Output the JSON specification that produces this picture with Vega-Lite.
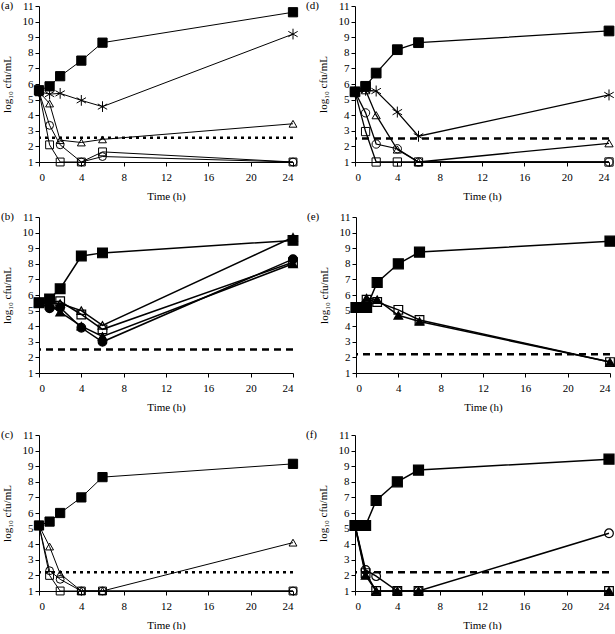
{
"$schema": "https://vega.github.io/schema/vega-lite/v6.json",
"padding": {"left": 1, "top": 0, "right": 0, "bottom": 0},
"background": "white",
"config": {
  "view": {"stroke": null},
  "axis": {"domainColor": "black", "tickColor": "black", "labelColor": "black", "titleColor": "black", "labelFont": "Liberation Serif", "titleFont": "Liberation Serif", "labelFontSize": 11, "titleFontSize": 11, "titleFontWeight": "normal", "grid": false, "tickSize": 4, "labelOverlap": false},
  "text": {"font": "Liberation Serif", "fontSize": 11, "color": "black", "align": "left", "baseline": "middle"}
},
"datasets": {
  "lod": [
    {"p": "a", "v": 2.55, "lab": "(a)"}, {"p": "b", "v": 2.5, "lab": "(b)"}, {"p": "c", "v": 2.2, "lab": "(c)"},
    {"p": "d", "v": 2.5, "lab": "(d)"}, {"p": "e", "v": 2.2, "lab": "(e)"}, {"p": "f", "v": 2.2, "lab": "(f)"}
  ],
  "pts": [
    {"p": "a", "s": "osq", "t": 0, "v": 5.5}, {"p": "a", "s": "osq", "t": 1, "v": 2.1}, {"p": "a", "s": "osq", "t": 2, "v": 1.0}, {"p": "a", "s": "osq", "t": 4, "v": 1.0}, {"p": "a", "s": "osq", "t": 6, "v": 1.65}, {"p": "a", "s": "osq", "t": 24, "v": 1.0},
    {"p": "a", "s": "ocirc", "t": 0, "v": 5.5}, {"p": "a", "s": "ocirc", "t": 1, "v": 3.35}, {"p": "a", "s": "ocirc", "t": 2, "v": 2.1}, {"p": "a", "s": "ocirc", "t": 4, "v": 1.0}, {"p": "a", "s": "ocirc", "t": 6, "v": 1.35}, {"p": "a", "s": "ocirc", "t": 24, "v": 1.0},
    {"p": "a", "s": "otri", "t": 0, "v": 5.5}, {"p": "a", "s": "otri", "t": 1, "v": 4.75}, {"p": "a", "s": "otri", "t": 2, "v": 2.4}, {"p": "a", "s": "otri", "t": 4, "v": 2.25}, {"p": "a", "s": "otri", "t": 6, "v": 2.45}, {"p": "a", "s": "otri", "t": 24, "v": 3.45},
    {"p": "a", "s": "star", "t": 0, "v": 5.5}, {"p": "a", "s": "star", "t": 1, "v": 5.35}, {"p": "a", "s": "star", "t": 2, "v": 5.4}, {"p": "a", "s": "star", "t": 4, "v": 4.95}, {"p": "a", "s": "star", "t": 6, "v": 4.55}, {"p": "a", "s": "star", "t": 24, "v": 9.2},
    {"p": "a", "s": "ctrl", "t": 0, "v": 5.6}, {"p": "a", "s": "ctrl", "t": 1, "v": 5.85}, {"p": "a", "s": "ctrl", "t": 2, "v": 6.5}, {"p": "a", "s": "ctrl", "t": 4, "v": 7.5}, {"p": "a", "s": "ctrl", "t": 6, "v": 8.65}, {"p": "a", "s": "ctrl", "t": 24, "v": 10.6},

    {"p": "d", "s": "osq", "t": 0, "v": 5.5}, {"p": "d", "s": "osq", "t": 1, "v": 2.95}, {"p": "d", "s": "osq", "t": 2, "v": 1.0}, {"p": "d", "s": "osq", "t": 4, "v": 1.0}, {"p": "d", "s": "osq", "t": 6, "v": 1.0}, {"p": "d", "s": "osq", "t": 24, "v": 1.0},
    {"p": "d", "s": "ocirc", "t": 0, "v": 5.5}, {"p": "d", "s": "ocirc", "t": 1, "v": 4.15}, {"p": "d", "s": "ocirc", "t": 2, "v": 2.15}, {"p": "d", "s": "ocirc", "t": 4, "v": 1.85}, {"p": "d", "s": "ocirc", "t": 6, "v": 1.0}, {"p": "d", "s": "ocirc", "t": 24, "v": 1.0},
    {"p": "d", "s": "otri", "t": 0, "v": 5.5}, {"p": "d", "s": "otri", "t": 1, "v": 5.6}, {"p": "d", "s": "otri", "t": 2, "v": 4.0}, {"p": "d", "s": "otri", "t": 4, "v": 1.8}, {"p": "d", "s": "otri", "t": 6, "v": 1.0}, {"p": "d", "s": "otri", "t": 24, "v": 2.2},
    {"p": "d", "s": "star", "t": 0, "v": 5.5}, {"p": "d", "s": "star", "t": 1, "v": 5.6}, {"p": "d", "s": "star", "t": 2, "v": 5.55}, {"p": "d", "s": "star", "t": 4, "v": 4.2}, {"p": "d", "s": "star", "t": 6, "v": 2.65}, {"p": "d", "s": "star", "t": 24, "v": 5.3},
    {"p": "d", "s": "ctrl", "t": 0, "v": 5.5}, {"p": "d", "s": "ctrl", "t": 1, "v": 5.85}, {"p": "d", "s": "ctrl", "t": 2, "v": 6.7}, {"p": "d", "s": "ctrl", "t": 4, "v": 8.2}, {"p": "d", "s": "ctrl", "t": 6, "v": 8.65}, {"p": "d", "s": "ctrl", "t": 24, "v": 9.4},

    {"p": "b", "s": "fcirc", "t": 0, "v": 5.5}, {"p": "b", "s": "fcirc", "t": 1, "v": 5.15}, {"p": "b", "s": "fcirc", "t": 2, "v": 5.2}, {"p": "b", "s": "fcirc", "t": 4, "v": 3.9}, {"p": "b", "s": "fcirc", "t": 6, "v": 3.0}, {"p": "b", "s": "fcirc", "t": 24, "v": 8.3},
    {"p": "b", "s": "ftri", "t": 0, "v": 5.5}, {"p": "b", "s": "ftri", "t": 1, "v": 5.35}, {"p": "b", "s": "ftri", "t": 2, "v": 4.9}, {"p": "b", "s": "ftri", "t": 4, "v": 4.0}, {"p": "b", "s": "ftri", "t": 6, "v": 3.35}, {"p": "b", "s": "ftri", "t": 24, "v": 8.0},
    {"p": "b", "s": "osq", "t": 0, "v": 5.5}, {"p": "b", "s": "osq", "t": 1, "v": 5.55}, {"p": "b", "s": "osq", "t": 2, "v": 5.6}, {"p": "b", "s": "osq", "t": 4, "v": 4.75}, {"p": "b", "s": "osq", "t": 6, "v": 3.8}, {"p": "b", "s": "osq", "t": 24, "v": 8.1},
    {"p": "b", "s": "otri", "t": 0, "v": 5.5}, {"p": "b", "s": "otri", "t": 1, "v": 5.5}, {"p": "b", "s": "otri", "t": 2, "v": 5.45}, {"p": "b", "s": "otri", "t": 4, "v": 5.0}, {"p": "b", "s": "otri", "t": 6, "v": 4.05}, {"p": "b", "s": "otri", "t": 24, "v": 9.7},
    {"p": "b", "s": "ctrl", "t": 0, "v": 5.5}, {"p": "b", "s": "ctrl", "t": 1, "v": 5.75}, {"p": "b", "s": "ctrl", "t": 2, "v": 6.4}, {"p": "b", "s": "ctrl", "t": 4, "v": 8.5}, {"p": "b", "s": "ctrl", "t": 6, "v": 8.7}, {"p": "b", "s": "ctrl", "t": 24, "v": 9.5},

    {"p": "e", "s": "osq", "t": 0, "v": 5.2}, {"p": "e", "s": "osq", "t": 1, "v": 5.7}, {"p": "e", "s": "osq", "t": 2, "v": 5.55}, {"p": "e", "s": "osq", "t": 4, "v": 5.05}, {"p": "e", "s": "osq", "t": 6, "v": 4.4}, {"p": "e", "s": "osq", "t": 24, "v": 1.7},
    {"p": "e", "s": "ftri", "t": 0, "v": 5.2}, {"p": "e", "s": "ftri", "t": 1, "v": 5.8}, {"p": "e", "s": "ftri", "t": 2, "v": 5.7}, {"p": "e", "s": "ftri", "t": 4, "v": 4.7}, {"p": "e", "s": "ftri", "t": 6, "v": 4.3}, {"p": "e", "s": "ftri", "t": 24, "v": 1.7},
    {"p": "e", "s": "ctrl", "t": 0, "v": 5.2}, {"p": "e", "s": "ctrl", "t": 1, "v": 5.2}, {"p": "e", "s": "ctrl", "t": 2, "v": 6.8}, {"p": "e", "s": "ctrl", "t": 4, "v": 8.0}, {"p": "e", "s": "ctrl", "t": 6, "v": 8.75}, {"p": "e", "s": "ctrl", "t": 24, "v": 9.45},

    {"p": "c", "s": "osq", "t": 0, "v": 5.2}, {"p": "c", "s": "osq", "t": 1, "v": 2.0}, {"p": "c", "s": "osq", "t": 2, "v": 1.0}, {"p": "c", "s": "osq", "t": 4, "v": 1.0}, {"p": "c", "s": "osq", "t": 6, "v": 1.0}, {"p": "c", "s": "osq", "t": 24, "v": 1.0},
    {"p": "c", "s": "ocirc", "t": 0, "v": 5.2}, {"p": "c", "s": "ocirc", "t": 1, "v": 2.3}, {"p": "c", "s": "ocirc", "t": 2, "v": 1.75}, {"p": "c", "s": "ocirc", "t": 4, "v": 1.0}, {"p": "c", "s": "ocirc", "t": 6, "v": 1.0}, {"p": "c", "s": "ocirc", "t": 24, "v": 1.0},
    {"p": "c", "s": "otri", "t": 0, "v": 5.2}, {"p": "c", "s": "otri", "t": 1, "v": 3.85}, {"p": "c", "s": "otri", "t": 2, "v": 2.1}, {"p": "c", "s": "otri", "t": 4, "v": 1.0}, {"p": "c", "s": "otri", "t": 6, "v": 1.0}, {"p": "c", "s": "otri", "t": 24, "v": 4.1},
    {"p": "c", "s": "ctrl", "t": 0, "v": 5.2}, {"p": "c", "s": "ctrl", "t": 1, "v": 5.45}, {"p": "c", "s": "ctrl", "t": 2, "v": 6.0}, {"p": "c", "s": "ctrl", "t": 4, "v": 7.0}, {"p": "c", "s": "ctrl", "t": 6, "v": 8.3}, {"p": "c", "s": "ctrl", "t": 24, "v": 9.15},

    {"p": "f", "s": "osq", "t": 0, "v": 5.2}, {"p": "f", "s": "osq", "t": 1, "v": 2.15}, {"p": "f", "s": "osq", "t": 2, "v": 1.0}, {"p": "f", "s": "osq", "t": 4, "v": 1.0}, {"p": "f", "s": "osq", "t": 6, "v": 1.0}, {"p": "f", "s": "osq", "t": 24, "v": 1.0},
    {"p": "f", "s": "ftri", "t": 0, "v": 5.2}, {"p": "f", "s": "ftri", "t": 1, "v": 2.0}, {"p": "f", "s": "ftri", "t": 2, "v": 1.0}, {"p": "f", "s": "ftri", "t": 4, "v": 1.0}, {"p": "f", "s": "ftri", "t": 6, "v": 1.0}, {"p": "f", "s": "ftri", "t": 24, "v": 1.0},
    {"p": "f", "s": "ocirc", "t": 0, "v": 5.2}, {"p": "f", "s": "ocirc", "t": 1, "v": 2.35}, {"p": "f", "s": "ocirc", "t": 2, "v": 1.95}, {"p": "f", "s": "ocirc", "t": 4, "v": 1.0}, {"p": "f", "s": "ocirc", "t": 6, "v": 1.0}, {"p": "f", "s": "ocirc", "t": 24, "v": 4.7},
    {"p": "f", "s": "ctrl", "t": 0, "v": 5.2}, {"p": "f", "s": "ctrl", "t": 1, "v": 5.2}, {"p": "f", "s": "ctrl", "t": 2, "v": 6.8}, {"p": "f", "s": "ctrl", "t": 4, "v": 8.0}, {"p": "f", "s": "ctrl", "t": 6, "v": 8.75}, {"p": "f", "s": "ctrl", "t": 24, "v": 9.45}
  ]
},
"spacing": 10,
"vconcat": [
  {"hconcat": [
    {"width": 254, "height": 156,
     "layer": [
      {"data": {"name": "lod"}, "transform": [{"filter": "datum.p == 'a'"}], "mark": {"type": "rule", "color": "black", "strokeWidth": 2.5, "strokeDash": [3, 4]}, "encoding": {"y": {"field": "v", "type": "quantitative", "scale": {"domain": [1, 11], "nice": false}, "axis": {"title": "log₁₀ cfu/mL", "values": [1,2,3,4,5,6,7,8,9,10,11], "tickCount": 11, "labelPadding": 2, "titlePadding": 10, "labelOverlap": false}}}},
      {"data": {"name": "lod"}, "transform": [{"filter": "datum.p == 'a'"}], "mark": {"type": "text", "dx": -38}, "encoding": {"x": {"datum": 0, "type": "quantitative"}, "y": {"datum": 11, "type": "quantitative"}, "text": {"field": "lab"}}},
      {"data": {"name": "pts"}, "transform": [{"filter": "datum.p == 'a'"}], "mark": {"type": "line", "color": "black", "strokeWidth": 1}, "encoding": {"x": {"field": "t", "type": "quantitative", "scale": {"domain": [0, 24], "nice": false}, "axis": {"title": "Time (h)", "values": [0,4,8,12,16,20,24], "labelPadding": 5, "titlePadding": 8}}, "y": {"field": "v", "type": "quantitative", "axis": {"title": "log₁₀ cfu/mL", "values": [1,2,3,4,5,6,7,8,9,10,11], "tickCount": 11, "labelPadding": 2, "titlePadding": 10, "labelOverlap": false}}, "detail": {"field": "s"}, "order": {"field": "t"}}},
      {"data": {"name": "pts"}, "transform": [{"filter": "datum.p == 'a'"}], "mark": {"type": "point", "filled": true, "fill": "black", "stroke": "black", "strokeWidth": 1, "opacity": 1},
       "encoding": {"x": {"field": "t", "type": "quantitative", "axis": {"title": "Time (h)", "values": [0,4,8,12,16,20,24], "labelPadding": 5, "titlePadding": 8}}, "y": {"field": "v", "type": "quantitative", "axis": {"title": "log₁₀ cfu/mL", "values": [1,2,3,4,5,6,7,8,9,10,11], "tickCount": 11, "labelPadding": 2, "titlePadding": 10, "labelOverlap": false}},
        "shape": {"field": "s", "type": "nominal", "legend": null, "scale": {"domain": ["ctrl", "star", "otri", "ocirc", "osq", "ftri", "fcirc"], "range": ["square", "M0,-1L0,1M-0.87,-0.5L0.87,0.5M-0.87,0.5L0.87,-0.5", "triangle-up", "circle", "square", "triangle-up", "circle"]}},
        "fillOpacity": {"condition": {"test": "indexof(['ctrl','ftri','fcirc'], datum.s) >= 0", "value": 1}, "value": 0},
        "size": {"condition": [{"test": "datum.s == 'ctrl'", "value": 85}, {"test": "datum.s == 'star'", "value": 115}], "value": 62}}}
     ]},
    {"width": 254, "height": 156,
     "layer": [
      {"data": {"name": "lod"}, "transform": [{"filter": "datum.p == 'd'"}], "mark": {"type": "rule", "color": "black", "strokeWidth": 2.5, "strokeDash": [7, 5]}, "encoding": {"y": {"field": "v", "type": "quantitative", "scale": {"domain": [1, 11], "nice": false}, "axis": {"title": "log₁₀ cfu/mL", "values": [1,2,3,4,5,6,7,8,9,10,11], "tickCount": 11, "labelPadding": 2, "titlePadding": 10, "labelOverlap": false}}}},
      {"data": {"name": "lod"}, "transform": [{"filter": "datum.p == 'd'"}], "mark": {"type": "text", "dx": -49}, "encoding": {"x": {"datum": 0, "type": "quantitative"}, "y": {"datum": 11, "type": "quantitative"}, "text": {"field": "lab"}}},
      {"data": {"name": "pts"}, "transform": [{"filter": "datum.p == 'd'"}], "mark": {"type": "line", "color": "black", "strokeWidth": 1.3}, "encoding": {"x": {"field": "t", "type": "quantitative", "scale": {"domain": [0, 24], "nice": false}, "axis": {"title": "Time (h)", "values": [0,4,8,12,16,20,24], "labelPadding": 5, "titlePadding": 8}}, "y": {"field": "v", "type": "quantitative", "axis": {"title": "log₁₀ cfu/mL", "values": [1,2,3,4,5,6,7,8,9,10,11], "tickCount": 11, "labelPadding": 2, "titlePadding": 10, "labelOverlap": false}}, "detail": {"field": "s"}, "order": {"field": "t"}}},
      {"data": {"name": "pts"}, "transform": [{"filter": "datum.p == 'd'"}], "mark": {"type": "point", "filled": true, "fill": "black", "stroke": "black", "strokeWidth": 1, "opacity": 1},
       "encoding": {"x": {"field": "t", "type": "quantitative", "axis": {"title": "Time (h)", "values": [0,4,8,12,16,20,24], "labelPadding": 5, "titlePadding": 8}}, "y": {"field": "v", "type": "quantitative", "axis": {"title": "log₁₀ cfu/mL", "values": [1,2,3,4,5,6,7,8,9,10,11], "tickCount": 11, "labelPadding": 2, "titlePadding": 10, "labelOverlap": false}},
        "shape": {"field": "s", "type": "nominal", "legend": null, "scale": {"domain": ["ctrl", "star", "otri", "ocirc", "osq", "ftri", "fcirc"], "range": ["square", "M0,-1L0,1M-0.87,-0.5L0.87,0.5M-0.87,0.5L0.87,-0.5", "triangle-up", "circle", "square", "triangle-up", "circle"]}},
        "fillOpacity": {"condition": {"test": "indexof(['ctrl','ftri','fcirc'], datum.s) >= 0", "value": 1}, "value": 0},
        "size": {"condition": [{"test": "datum.s == 'ctrl'", "value": 95}, {"test": "datum.s == 'star'", "value": 120}], "value": 68}}}
     ]}
  ], "spacing": 6},
  {"spacing": 17, "vconcat": [
  {"hconcat": [
    {"width": 254, "height": 156,
     "layer": [
      {"data": {"name": "lod"}, "transform": [{"filter": "datum.p == 'b'"}], "mark": {"type": "rule", "color": "black", "strokeWidth": 2.5, "strokeDash": [7, 5]}, "encoding": {"y": {"field": "v", "type": "quantitative", "scale": {"domain": [1, 11], "nice": false}, "axis": {"title": "log₁₀ cfu/mL", "values": [1,2,3,4,5,6,7,8,9,10,11], "tickCount": 11, "labelPadding": 2, "titlePadding": 10, "labelOverlap": false}}}},
      {"data": {"name": "lod"}, "transform": [{"filter": "datum.p == 'b'"}], "mark": {"type": "text", "dx": -38}, "encoding": {"x": {"datum": 0, "type": "quantitative"}, "y": {"datum": 11, "type": "quantitative"}, "text": {"field": "lab"}}},
      {"data": {"name": "pts"}, "transform": [{"filter": "datum.p == 'b'"}], "mark": {"type": "line", "color": "black", "strokeWidth": 1.5}, "encoding": {"x": {"field": "t", "type": "quantitative", "scale": {"domain": [0, 24], "nice": false}, "axis": {"title": "Time (h)", "values": [0,4,8,12,16,20,24], "labelPadding": 5, "titlePadding": 8}}, "y": {"field": "v", "type": "quantitative", "axis": {"title": "log₁₀ cfu/mL", "values": [1,2,3,4,5,6,7,8,9,10,11], "tickCount": 11, "labelPadding": 2, "titlePadding": 10, "labelOverlap": false}}, "detail": {"field": "s"}, "order": {"field": "t"}}},
      {"data": {"name": "pts"}, "transform": [{"filter": "datum.p == 'b'"}], "mark": {"type": "point", "filled": true, "fill": "black", "stroke": "black", "strokeWidth": 1.2, "opacity": 1},
       "encoding": {"x": {"field": "t", "type": "quantitative", "axis": {"title": "Time (h)", "values": [0,4,8,12,16,20,24], "labelPadding": 5, "titlePadding": 8}}, "y": {"field": "v", "type": "quantitative", "axis": {"title": "log₁₀ cfu/mL", "values": [1,2,3,4,5,6,7,8,9,10,11], "tickCount": 11, "labelPadding": 2, "titlePadding": 10, "labelOverlap": false}},
        "shape": {"field": "s", "type": "nominal", "legend": null, "scale": {"domain": ["ctrl", "star", "otri", "ocirc", "osq", "ftri", "fcirc"], "range": ["square", "M0,-1L0,1M-0.87,-0.5L0.87,0.5M-0.87,0.5L0.87,-0.5", "triangle-up", "circle", "square", "triangle-up", "circle"]}},
        "fillOpacity": {"condition": {"test": "indexof(['ctrl','ftri','fcirc'], datum.s) >= 0", "value": 1}, "value": 0},
        "size": {"condition": {"test": "datum.s == 'ctrl'", "value": 95}, "value": 75}}}
     ]},
    {"width": 254, "height": 156,
     "layer": [
      {"data": {"name": "lod"}, "transform": [{"filter": "datum.p == 'e'"}], "mark": {"type": "rule", "color": "black", "strokeWidth": 2.5, "strokeDash": [7, 5]}, "encoding": {"y": {"field": "v", "type": "quantitative", "scale": {"domain": [1, 11], "nice": false}, "axis": {"title": "log₁₀ cfu/mL", "values": [1,2,3,4,5,6,7,8,9,10,11], "tickCount": 11, "labelPadding": 2, "titlePadding": 10, "labelOverlap": false}}}},
      {"data": {"name": "lod"}, "transform": [{"filter": "datum.p == 'e'"}], "mark": {"type": "text", "dx": -49}, "encoding": {"x": {"datum": 0, "type": "quantitative"}, "y": {"datum": 11, "type": "quantitative"}, "text": {"field": "lab"}}},
      {"data": {"name": "pts"}, "transform": [{"filter": "datum.p == 'e'"}], "mark": {"type": "line", "color": "black", "strokeWidth": 1.5}, "encoding": {"x": {"field": "t", "type": "quantitative", "scale": {"domain": [0, 24], "nice": false}, "axis": {"title": "Time (h)", "values": [0,4,8,12,16,20,24], "labelPadding": 5, "titlePadding": 8}}, "y": {"field": "v", "type": "quantitative", "axis": {"title": "log₁₀ cfu/mL", "values": [1,2,3,4,5,6,7,8,9,10,11], "tickCount": 11, "labelPadding": 2, "titlePadding": 10, "labelOverlap": false}}, "detail": {"field": "s"}, "order": {"field": "t"}}},
      {"data": {"name": "pts"}, "transform": [{"filter": "datum.p == 'e'"}], "mark": {"type": "point", "filled": true, "fill": "black", "stroke": "black", "strokeWidth": 1.2, "opacity": 1},
       "encoding": {"x": {"field": "t", "type": "quantitative", "axis": {"title": "Time (h)", "values": [0,4,8,12,16,20,24], "labelPadding": 5, "titlePadding": 8}}, "y": {"field": "v", "type": "quantitative", "axis": {"title": "log₁₀ cfu/mL", "values": [1,2,3,4,5,6,7,8,9,10,11], "tickCount": 11, "labelPadding": 2, "titlePadding": 10, "labelOverlap": false}},
        "shape": {"field": "s", "type": "nominal", "legend": null, "scale": {"domain": ["ctrl", "star", "otri", "ocirc", "osq", "ftri", "fcirc"], "range": ["square", "M0,-1L0,1M-0.87,-0.5L0.87,0.5M-0.87,0.5L0.87,-0.5", "triangle-up", "circle", "square", "triangle-up", "circle"]}},
        "fillOpacity": {"condition": {"test": "indexof(['ctrl','ftri','fcirc'], datum.s) >= 0", "value": 1}, "value": 0},
        "size": {"condition": {"test": "datum.s == 'ctrl'", "value": 100}, "value": 75}}}
     ]}
  ], "spacing": 6},
  {"hconcat": [
    {"width": 254, "height": 156,
     "layer": [
      {"data": {"name": "lod"}, "transform": [{"filter": "datum.p == 'c'"}], "mark": {"type": "rule", "color": "black", "strokeWidth": 2.5, "strokeDash": [3, 4]}, "encoding": {"y": {"field": "v", "type": "quantitative", "scale": {"domain": [1, 11], "nice": false}, "axis": {"title": "log₁₀ cfu/mL", "values": [1,2,3,4,5,6,7,8,9,10,11], "tickCount": 11, "labelPadding": 2, "titlePadding": 10, "labelOverlap": false}}}},
      {"data": {"name": "lod"}, "transform": [{"filter": "datum.p == 'c'"}], "mark": {"type": "text", "dx": -38}, "encoding": {"x": {"datum": 0, "type": "quantitative"}, "y": {"datum": 11, "type": "quantitative"}, "text": {"field": "lab"}}},
      {"data": {"name": "pts"}, "transform": [{"filter": "datum.p == 'c'"}], "mark": {"type": "line", "color": "black", "strokeWidth": 1}, "encoding": {"x": {"field": "t", "type": "quantitative", "scale": {"domain": [0, 24], "nice": false}, "axis": {"title": "Time (h)", "values": [0,4,8,12,16,20,24], "labelPadding": 5, "titlePadding": 8}}, "y": {"field": "v", "type": "quantitative", "axis": {"title": "log₁₀ cfu/mL", "values": [1,2,3,4,5,6,7,8,9,10,11], "tickCount": 11, "labelPadding": 2, "titlePadding": 10, "labelOverlap": false}}, "detail": {"field": "s"}, "order": {"field": "t"}}},
      {"data": {"name": "pts"}, "transform": [{"filter": "datum.p == 'c'"}], "mark": {"type": "point", "filled": true, "fill": "black", "stroke": "black", "strokeWidth": 1, "opacity": 1},
       "encoding": {"x": {"field": "t", "type": "quantitative", "axis": {"title": "Time (h)", "values": [0,4,8,12,16,20,24], "labelPadding": 5, "titlePadding": 8}}, "y": {"field": "v", "type": "quantitative", "axis": {"title": "log₁₀ cfu/mL", "values": [1,2,3,4,5,6,7,8,9,10,11], "tickCount": 11, "labelPadding": 2, "titlePadding": 10, "labelOverlap": false}},
        "shape": {"field": "s", "type": "nominal", "legend": null, "scale": {"domain": ["ctrl", "star", "otri", "ocirc", "osq", "ftri", "fcirc"], "range": ["square", "M0,-1L0,1M-0.87,-0.5L0.87,0.5M-0.87,0.5L0.87,-0.5", "triangle-up", "circle", "square", "triangle-up", "circle"]}},
        "fillOpacity": {"condition": {"test": "indexof(['ctrl','ftri','fcirc'], datum.s) >= 0", "value": 1}, "value": 0},
        "size": {"condition": {"test": "datum.s == 'ctrl'", "value": 85}, "value": 62}}}
     ]},
    {"width": 254, "height": 156,
     "layer": [
      {"data": {"name": "lod"}, "transform": [{"filter": "datum.p == 'f'"}], "mark": {"type": "rule", "color": "black", "strokeWidth": 2.5, "strokeDash": [7, 5]}, "encoding": {"y": {"field": "v", "type": "quantitative", "scale": {"domain": [1, 11], "nice": false}, "axis": {"title": "log₁₀ cfu/mL", "values": [1,2,3,4,5,6,7,8,9,10,11], "tickCount": 11, "labelPadding": 2, "titlePadding": 10, "labelOverlap": false}}}},
      {"data": {"name": "lod"}, "transform": [{"filter": "datum.p == 'f'"}], "mark": {"type": "text", "dx": -49}, "encoding": {"x": {"datum": 0, "type": "quantitative"}, "y": {"datum": 11, "type": "quantitative"}, "text": {"field": "lab"}}},
      {"data": {"name": "pts"}, "transform": [{"filter": "datum.p == 'f'"}], "mark": {"type": "line", "color": "black", "strokeWidth": 1.5}, "encoding": {"x": {"field": "t", "type": "quantitative", "scale": {"domain": [0, 24], "nice": false}, "axis": {"title": "Time (h)", "values": [0,4,8,12,16,20,24], "labelPadding": 5, "titlePadding": 8}}, "y": {"field": "v", "type": "quantitative", "axis": {"title": "log₁₀ cfu/mL", "values": [1,2,3,4,5,6,7,8,9,10,11], "tickCount": 11, "labelPadding": 2, "titlePadding": 10, "labelOverlap": false}}, "detail": {"field": "s"}, "order": {"field": "t"}}},
      {"data": {"name": "pts"}, "transform": [{"filter": "datum.p == 'f'"}], "mark": {"type": "point", "filled": true, "fill": "black", "stroke": "black", "strokeWidth": 1.2, "opacity": 1},
       "encoding": {"x": {"field": "t", "type": "quantitative", "axis": {"title": "Time (h)", "values": [0,4,8,12,16,20,24], "labelPadding": 5, "titlePadding": 8}}, "y": {"field": "v", "type": "quantitative", "axis": {"title": "log₁₀ cfu/mL", "values": [1,2,3,4,5,6,7,8,9,10,11], "tickCount": 11, "labelPadding": 2, "titlePadding": 10, "labelOverlap": false}},
        "shape": {"field": "s", "type": "nominal", "legend": null, "scale": {"domain": ["ctrl", "star", "otri", "ocirc", "osq", "ftri", "fcirc"], "range": ["square", "M0,-1L0,1M-0.87,-0.5L0.87,0.5M-0.87,0.5L0.87,-0.5", "triangle-up", "circle", "square", "triangle-up", "circle"]}},
        "fillOpacity": {"condition": {"test": "indexof(['ctrl','ftri','fcirc'], datum.s) >= 0", "value": 1}, "value": 0},
        "size": {"condition": {"test": "datum.s == 'ctrl'", "value": 100}, "value": 75}}}
     ]}
  ], "spacing": 6}
  ]}
]
}
